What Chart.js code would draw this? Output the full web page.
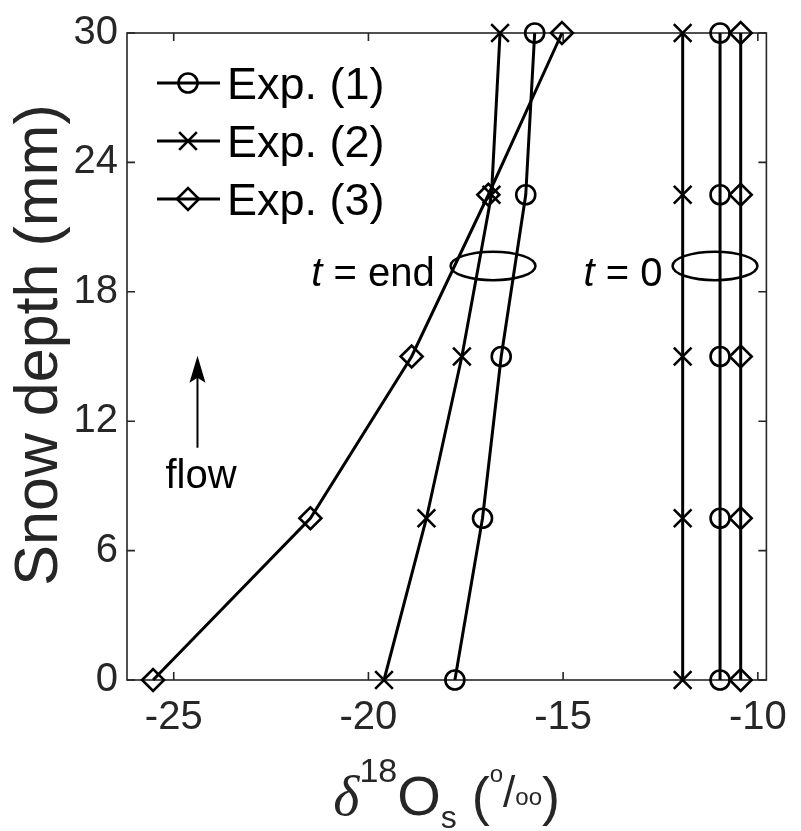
<!DOCTYPE html>
<html>
<head>
<meta charset="utf-8">
<script src="https://cdn.jsdelivr.net/npm/chart.js@4.4.0/dist/chart.umd.min.js"></script>
<style>
	body { margin: 0; background: #fff; }
	#wrap { width: 801px; height: 831px; }
</style>
</head>
<body>
<div id="wrap"><canvas id="chart" width="801" height="831"></canvas></div>
<script>
// snow depth of each sample (mm)
let depth = [0, 7.5, 15, 22.5, 30];
// delta 18O of snow at the end of each experiment
let exp1End = [-17.78, -17.07, -16.59, -15.96, -15.73];
let exp2End = [-19.6, -18.51, -17.6, -16.84, -16.62];
let exp3End = [-25.53, -21.49, -18.89, -16.92, -15.03];
// initial values (t = 0)
let exp1Start = [-10.97, -10.97, -10.97, -10.97, -10.97];
let exp2Start = [-11.93, -11.93, -11.93, -11.93, -11.93];
let exp3Start = [-10.44, -10.44, -10.44, -10.44, -10.44];

let seriesLabels = ['Exp. (1)', 'Exp. (2)', 'Exp. (3)'];
let xTicks = [-25, -20, -15, -10];
let yTicks = [0, 6, 12, 18, 24, 30];

const INK = '#262626';
const FONT = '"Liberation Sans", Arial, Helvetica, sans-serif';

let toPoints = (xs) => xs.map((x, i) => ({ x, y: depth[i] }));

let styles = [
	{ pointStyle: 'circle', radius: 9.5 },
	{ pointStyle: 'crossRot', radius: 12.5 },
	{ pointStyle: 'rectRot', radius: 11 },
];

let makeSet = (label, xs, k) => ({
	label,
	data: toPoints(xs),
	showLine: true,
	borderColor: '#000',
	borderWidth: 3,
	backgroundColor: 'rgba(0,0,0,0)',
	pointStyle: styles[k].pointStyle,
	pointRadius: styles[k].radius,
	pointHoverRadius: styles[k].radius,
	pointBorderWidth: 2.6,
	pointBorderColor: '#000',
	clip: false,
});

let datasets = [
	makeSet(seriesLabels[0], exp1End, 0),
	makeSet(seriesLabels[1], exp2End, 1),
	makeSet(seriesLabels[2], exp3End, 2),
	makeSet('', exp1Start, 0),
	makeSet('', exp2Start, 1),
	makeSet('', exp3Start, 2),
];

// small marker drawer for the in-axes legend
function marker(ctx, style, r, x, y) {
	ctx.beginPath();
	if (style === 'circle') {
		ctx.arc(x, y, r, 0, Math.PI * 2);
	} else if (style === 'crossRot') {
		let d = r * Math.SQRT1_2;
		ctx.moveTo(x - d, y - d); ctx.lineTo(x + d, y + d);
		ctx.moveTo(x + d, y - d); ctx.lineTo(x - d, y + d);
	} else {
		ctx.moveTo(x - r, y); ctx.lineTo(x, y - r);
		ctx.lineTo(x + r, y); ctx.lineTo(x, y + r);
		ctx.closePath();
	}
	ctx.stroke();
}

let matlabLook = {
	id: 'matlabLook',
	beforeDatasetsDraw(chart) {
		let { ctx, chartArea: a, scales } = chart;
		ctx.save();
		ctx.strokeStyle = INK;
		ctx.lineWidth = 1.6;
		ctx.strokeRect(a.left, a.top, a.right - a.left, a.bottom - a.top);
		// inward ticks on all four sides
		let tl = 8;
		ctx.beginPath();
		xTicks.forEach(v => {
			let px = scales.x.getPixelForValue(v);
			ctx.moveTo(px, a.bottom); ctx.lineTo(px, a.bottom - tl);
			ctx.moveTo(px, a.top); ctx.lineTo(px, a.top + tl);
		});
		yTicks.forEach(v => {
			let py = scales.y.getPixelForValue(v);
			ctx.moveTo(a.left, py); ctx.lineTo(a.left + tl, py);
			ctx.moveTo(a.right, py); ctx.lineTo(a.right - tl, py);
		});
		ctx.stroke();
		ctx.restore();
	},
	afterDatasetsDraw(chart) {
		let { ctx, scales } = chart;
		let X = v => scales.x.getPixelForValue(v);
		let Y = v => scales.y.getPixelForValue(v);
		ctx.save();
		ctx.strokeStyle = '#000';
		ctx.fillStyle = '#000';

		// ellipses grouping the end and start profiles
		ctx.lineWidth = 2.5;
		[-16.8, -11.1].forEach(cx => {
			let rx = X(cx + 1.09) - X(cx);
			let ry = Y(19.2) - Y(19.86);
			ctx.beginPath();
			ctx.ellipse(X(cx), Y(19.2), rx, ry, 0, 0, Math.PI * 2);
			ctx.stroke();
		});

		// "t = end" and "t = 0", t in italics
		let label = (rightX, baseY, rest) => {
			ctx.font = '40px ' + FONT;
			let wRest = ctx.measureText(rest).width;
			ctx.font = 'italic 40px ' + FONT;
			let wT = ctx.measureText('t').width;
			let x0 = X(rightX) - wRest - wT;
			ctx.textBaseline = 'alphabetic';
			ctx.textAlign = 'left';
			ctx.fillText('t', x0, Y(baseY));
			ctx.font = '40px ' + FONT;
			ctx.fillText(rest, x0 + wT, Y(baseY));
		};
		label(-18.3, 18.26, ' = end');
		label(-12.45, 18.26, ' = 0');

		// flow arrow
		let ax = X(-24.39), ay0 = Y(10.77), ay1 = Y(15.03);
		ctx.lineWidth = 2;
		ctx.beginPath();
		ctx.moveTo(ax, ay0); ctx.lineTo(ax, ay1 + 20);
		ctx.stroke();
		ctx.beginPath();
		ctx.moveTo(ax, ay1);
		ctx.lineTo(ax - 8, ay1 + 27);
		ctx.lineTo(ax, ay1 + 22);
		ctx.lineTo(ax + 8, ay1 + 27);
		ctx.closePath();
		ctx.fill();
		ctx.font = '40px ' + FONT;
		ctx.textAlign = 'center';
		ctx.fillText('flow', X(-24.3), Y(8.92));

		// legend inside the axes
		chart.data.datasets.slice(0, 3).forEach((ds, i) => {
			let y = 83 + i * 58;
			ctx.lineWidth = 3;
			ctx.beginPath();
			ctx.moveTo(157, y); ctx.lineTo(220, y);
			ctx.stroke();
			ctx.lineWidth = 2.6;
			marker(ctx, ds.pointStyle, ds.pointRadius, 188, y);
			ctx.font = '45px ' + FONT;
			ctx.textAlign = 'left';
			ctx.fillText(ds.label, 227, y + 16);
		});
		ctx.restore();
	},
	afterDraw(chart) {
		let { ctx, chartArea: a } = chart;
		ctx.save();
		ctx.fillStyle = INK;
		ctx.textBaseline = 'alphabetic';

		// y axis label, rotated
		ctx.save();
		ctx.translate(57, 345);
		ctx.rotate(-Math.PI / 2);
		ctx.font = '61px ' + FONT;
		ctx.textAlign = 'center';
		ctx.fillText('Snow depth (mm)', 0, 0);
		ctx.restore();

		// x axis label: delta^18 O_s (o/oo)
		let base = 815;
		let parts = [
			{ t: 'δ', f: 'italic 56px "Liberation Serif", serif', dy: 0 },
			{ t: '18', f: '34px ' + FONT, dy: -33 },
			{ t: 'O', f: '56px ' + FONT, dy: 0 },
			{ t: 's', f: '32px ' + FONT, dy: 13 },
			{ t: ' (', f: '54px ' + FONT, dy: 0 },
			{ t: 'o', f: '24px ' + FONT, dy: -33 },
			{ t: '/', f: '44px ' + FONT, dy: -8 },
			{ t: 'oo', f: '24px ' + FONT, dy: -10 },
			{ t: ')', f: '54px ' + FONT, dy: 0 },
		];
		let total = 0;
		parts.forEach(p => { ctx.font = p.f; p.w = ctx.measureText(p.t).width; total += p.w; });
		let x = (a.left + a.right) / 2 - total / 2;
		ctx.textAlign = 'left';
		parts.forEach(p => {
			ctx.font = p.f;
			ctx.fillText(p.t, x, base + p.dy);
			x += p.w;
		});
		ctx.restore();
	},
};

let ctx = document.getElementById('chart').getContext('2d');
let chart = new Chart(ctx, {
	type: 'scatter',
	data: { datasets },
	plugins: [matlabLook],
	options: {
		responsive: false,
		animation: false,
		events: [],
		layout: { autoPadding: false, padding: { top: 31, right: 20, left: 0, bottom: 0 } },
		plugins: { legend: { display: false }, tooltip: { enabled: false } },
		scales: {
			x: {
				type: 'linear',
				min: -26.2,
				max: -9.78,
				afterBuildTicks: (s) => { s.ticks = xTicks.map(v => ({ value: v })); },
				afterFit: (s) => { s.height = 151; },
				grid: { display: false, drawTicks: false },
				border: { display: false },
				ticks: { color: INK, font: { family: FONT, size: 40 }, padding: 14, maxRotation: 0 },
			},
			y: {
				type: 'linear',
				min: 0,
				max: 30,
				afterBuildTicks: (s) => { s.ticks = yTicks.map(v => ({ value: v })); },
				afterFit: (s) => { s.width = 127; },
				grid: { display: false, drawTicks: false },
				border: { display: false },
				ticks: { color: INK, font: { family: FONT, size: 40 }, padding: 9 },
			},
		},
	},
});
</script>
</body>
</html>
